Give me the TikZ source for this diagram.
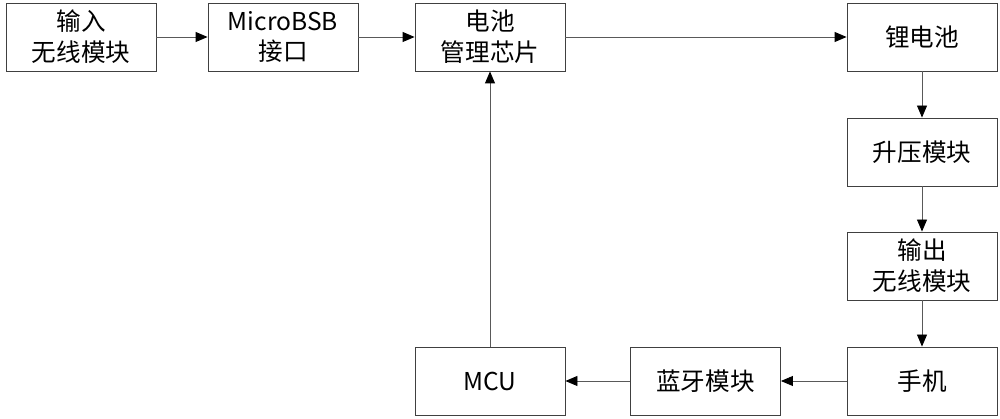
\documentclass[tikz,border=0pt]{standalone}
\usepackage{fontspec}
\setmainfont{Noto Sans CJK SC}
\usetikzlibrary{arrows.meta}
\begin{document}
\begin{tikzpicture}[
		box/.style={draw=black!75, line width=0.5pt, minimum width=3cm, minimum height=1.36cm, align=center, inner sep=1pt, font=\fontsize{14}{17.5}\selectfont},
		link/.style={draw=black!65, line width=0.5pt, -{Triangle[length=2.4mm,width=2mm,color=black]}}
	]
		\useasboundingbox (0,0) rectangle (20,-8.38);

		\node[box] (in) at (1.62,-0.74) {输入\\无线模块};
		\node[box] (usb) at (5.66,-0.74) {MicroBSB\\接口};
		\node[box] (chip) at (9.8,-0.74) {电池\\管理芯片};
		\node[box] (bat) at (18.44,-0.74) {锂电池};

		\node[box] (boost) at (18.44,-3.04) {升压模块};
		\node[box] (out) at (18.44,-5.32) {输出\\无线模块};
		\node[box] (phone) at (18.44,-7.62) {手机};

		\node[box] (bt) at (14.11,-7.62) {蓝牙模块};
		\node[box] (mcu) at (9.8,-7.62) {MCU};

		\draw[link] (in.east) -- (usb.west);
		\draw[link] (usb.east) -- (chip.west);
		\draw[link] (chip.east) -- (bat.west);
		\draw[link] (bat.south) -- (boost.north);
		\draw[link] (boost.south) -- (out.north);
		\draw[link] (out.south) -- (phone.north);
		\draw[link] (phone.west) -- (bt.east);
		\draw[link] (bt.west) -- (mcu.east);
		\draw[link] (mcu.north) -- (chip.south);
	\end{tikzpicture}
\end{document}
